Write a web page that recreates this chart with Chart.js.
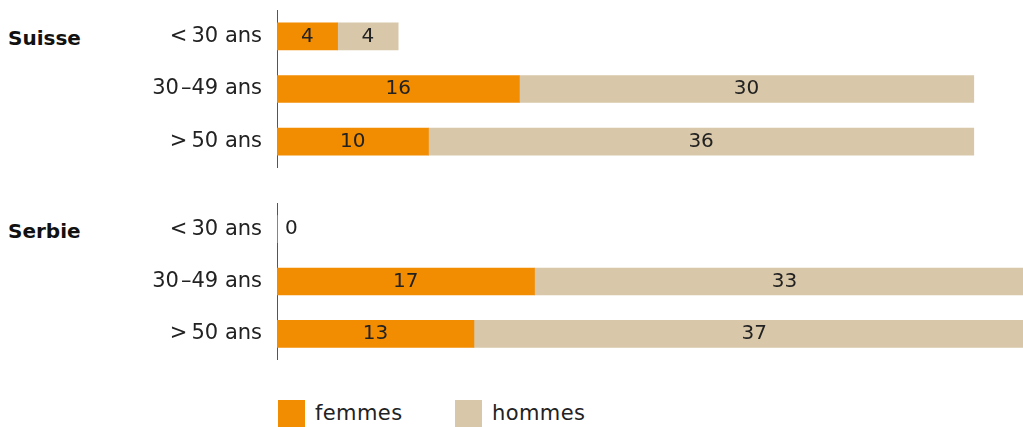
<!DOCTYPE html>
<html>
<head>
<meta charset="utf-8">
<script src="https://cdn.jsdelivr.net/npm/chart.js@4"></script>
<style>
  body { margin: 0; background: #fff; font-family: "DejaVu Sans", sans-serif; color: #222; }
  #wrap { position: relative; width: 1023px; height: 427px; overflow: hidden; }
  canvas { position: absolute; left: 0; }
  .groupe { position: absolute; left: 8px; font-weight: bold; font-size: 20px; line-height: 20px; color: #111; }
  .leg { position: absolute; top: 400px; height: 27px; font-size: 21px; line-height: 27px; letter-spacing: 0.4px; }
  .leg span { display: inline-block; width: 27px; height: 27px; vertical-align: top; margin-right: 10px; }
</style>
</head>
<body>
<div id="wrap">
  <div class="groupe" style="top:28px">Suisse</div>
  <div class="groupe" style="top:221px">Serbie</div>
  <canvas id="c1" width="1023" height="158" style="top:10px"></canvas>
  <canvas id="c2" width="1023" height="157" style="top:203px"></canvas>
  <div class="leg" style="left:278px"><span style="background:#F28C00"></span>femmes</div>
  <div class="leg" style="left:455px"><span style="background:#D8C7A8"></span>hommes</div>
</div>
<script>
const categories = ['<\u200930 ans', '30\u200a–49 ans', '>\u200950 ans'];
const suisseFemmes = [4, 16, 10];
const suisseHommes = [4, 30, 36];
const serbieFemmes = [0, 17, 13];
const serbieHommes = [0, 33, 37];

const orange = '#F28C00';
const beige = '#D8C7A8';
const police = '"DejaVu Sans", sans-serif';

// valeurs au milieu de chaque segment, "0" a gauche si la ligne est vide
const etiquettes = {
  id: 'etiquettes',
  afterDatasetsDraw(chart) {
    const ctx = chart.ctx;
    ctx.save();
    ctx.font = '20px ' + police;
    ctx.fillStyle = '#222';
    ctx.textBaseline = 'middle';
    const n = chart.data.labels.length;
    for (let i = 0; i < n; i++) {
      let total = 0;
      chart.data.datasets.forEach(ds => total += ds.data[i]);
      if (total == 0) {
        const el = chart.getDatasetMeta(0).data[i];
        ctx.textAlign = 'left';
        ctx.fillText('0', chart.chartArea.left + 8, el.y);
        continue;
      }
      chart.data.datasets.forEach((ds, d) => {
        if (ds.data[i] <= 0) return;
        const el = chart.getDatasetMeta(d).data[i];
        ctx.textAlign = 'center';
        ctx.fillText(String(ds.data[i]), (el.x + el.base) / 2, el.y);
      });
    }
    ctx.restore();
  }
};

function faireGraphique(id, femmes, hommes) {
  new Chart(document.getElementById(id), {
    type: 'bar',
    data: {
      labels: categories,
      datasets: [
        { label: 'femmes', data: femmes, backgroundColor: orange, barThickness: 27 },
        { label: 'hommes', data: hommes, backgroundColor: beige, barThickness: 27 }
      ]
    },
    options: {
      indexAxis: 'y',
      responsive: false,
      animation: false,
      layout: { padding: 0 },
      plugins: { legend: { display: false }, tooltip: { enabled: false } },
      scales: {
        x: { stacked: true, min: 0, max: 49.25, display: false },
        y: {
          stacked: true,
          grid: { display: false, drawTicks: false },
          border: { display: true, color: '#555', width: 1 },
          ticks: { color: '#222', padding: 15, font: { size: 21, family: police } },
          afterFit(scale) {
            scale.width = 277;
            scale.paddingTop = 0;
            scale.paddingBottom = 0;
          }
        }
      }
    },
    plugins: [etiquettes]
  });
}

faireGraphique('c1', suisseFemmes, suisseHommes);
faireGraphique('c2', serbieFemmes, serbieHommes);
</script>
</body>
</html>
